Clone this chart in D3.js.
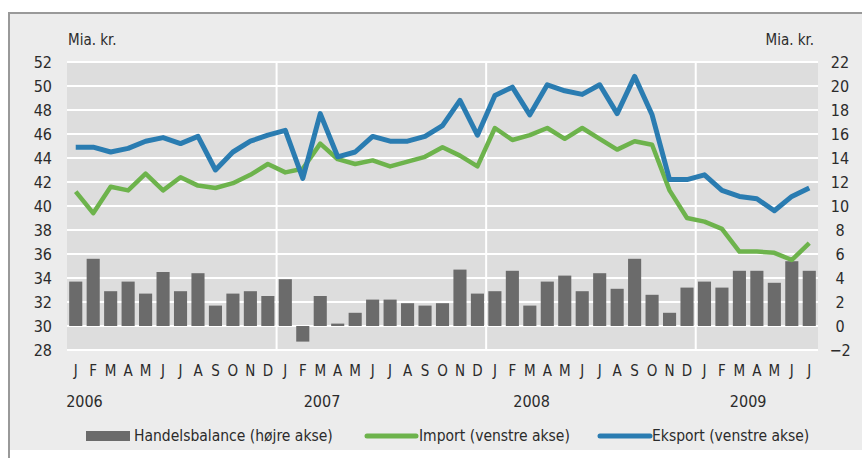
<!DOCTYPE html>
<html>
<head>
<meta charset="utf-8">
<script src="https://cdn.jsdelivr.net/npm/d3@7"></script>
<style>
  html, body { margin: 0; padding: 0; background: #fff; }
  svg { display: block; }
  text { font-family: 'Liberation Sans Narrow', 'DejaVu Sans Condensed', 'Roboto Condensed', sans-serif; fill: #2b2b2b; }
</style>
</head>
<body>
<svg id="chart" width="862" height="458"></svg>
<script>
const monthLetters = ['J', 'F', 'M', 'A', 'M', 'J', 'J', 'A', 'S', 'O', 'N', 'D']
const years = [2006, 2007, 2008, 2009]
const monthCounts = [12, 12, 12, 7]

// Mia. kr., venstre akse
const eksport = [
  44.9, 44.9, 44.5, 44.8, 45.4, 45.7, 45.2, 45.8, 43.0, 44.5, 45.4, 45.9,
  46.3, 42.3, 47.7, 44.1, 44.5, 45.8, 45.4, 45.4, 45.8, 46.7, 48.8, 45.9,
  49.2, 49.9, 47.6, 50.1, 49.6, 49.3, 50.1, 47.7, 50.8, 47.6, 42.2, 42.2,
  42.6, 41.3, 40.8, 40.6, 39.6, 40.8, 41.5,
]
const importVals = [
  41.2, 39.4, 41.6, 41.3, 42.7, 41.3, 42.4, 41.7, 41.5, 41.9, 42.6, 43.5,
  42.8, 43.1, 45.2, 43.9, 43.5, 43.8, 43.3, 43.7, 44.1, 44.9, 44.2, 43.3,
  46.5, 45.5, 45.9, 46.5, 45.6, 46.5, 45.6, 44.7, 45.4, 45.1, 41.3, 39.0,
  38.7, 38.1, 36.2, 36.2, 36.1, 35.5, 36.9,
]
// Mia. kr., højre akse
const handelsbalance = [
  3.7, 5.6, 2.9, 3.7, 2.7, 4.5, 2.9, 4.4, 1.7, 2.7, 2.9, 2.5,
  3.9, -1.3, 2.5, 0.2, 1.1, 2.2, 2.2, 1.9, 1.7, 1.9, 4.7, 2.7,
  2.9, 4.6, 1.7, 3.7, 4.2, 2.9, 4.4, 3.1, 5.6, 2.6, 1.1, 3.2,
  3.7, 3.2, 4.6, 4.6, 3.6, 5.4, 4.6,
]
const leftTicks = [28, 30, 32, 34, 36, 38, 40, 42, 44, 46, 48, 50, 52]
const rightTicks = [-2, 0, 2, 4, 6, 8, 10, 12, 14, 16, 18, 20, 22]
// where each year label sits, in months from the first month of that year
const yearLabelOffset = [1.0, 2.6, 2.6, 3.0]

const months = []
years.forEach((yr, yi) => {
  for (let m = 0; m < monthCounts[yi]; m++) {
    months.push({ key: `${yr}-${m}`, year: yr, m, letter: monthLetters[m] })
  }
})

const plot = { left: 67, right: 818, top: 62, bottom: 350 }
const colors = { bar: '#6b6b6b', imp: '#6db34c', eks: '#2a7cb1' }

const svg = d3.select('#chart')

// panel background and frame
svg.append('rect').attr('x', 9).attr('y', 13).attr('width', 853).attr('height', 437).attr('fill', '#ececec')
svg.append('line').attr('x1', 8).attr('x2', 862).attr('y1', 13).attr('y2', 13).attr('stroke', '#999').attr('stroke-width', 2)
svg.append('line').attr('x1', 9).attr('x2', 9).attr('y1', 12).attr('y2', 458).attr('stroke', '#999').attr('stroke-width', 2)

const x = d3.scaleBand().domain(months.map((d) => d.key)).range([plot.left, plot.right]).paddingInner(0.25).paddingOuter(0.125)
const yL = d3.scaleLinear().domain([28, 52]).range([plot.bottom, plot.top])
const yR = d3.scaleLinear().domain([-2, 22]).range([plot.bottom, plot.top])
const cx = (i) => x(months[i].key) + x.bandwidth() / 2
const step = x.step()

svg.append('rect')
  .attr('x', plot.left).attr('y', plot.top)
  .attr('width', plot.right - plot.left).attr('height', plot.bottom - plot.top)
  .attr('fill', '#dddddd')

// horizontal grid
svg.append('g').selectAll('line')
  .data(leftTicks)
  .join('line')
  .attr('x1', plot.left).attr('x2', plot.right)
  .attr('y1', (d) => yL(d)).attr('y2', (d) => yL(d))
  .attr('stroke', '#fff').attr('stroke-width', 2)

// year separators
const yearStarts = months.map((d, i) => i).filter((i) => i > 0 && months[i].m === 0)
svg.append('g').selectAll('line')
  .data(yearStarts)
  .join('line')
  .attr('x1', (i) => x(months[i].key) - step * x.paddingInner() / 2)
  .attr('x2', (i) => x(months[i].key) - step * x.paddingInner() / 2)
  .attr('y1', plot.top).attr('y2', plot.bottom)
  .attr('stroke', '#fff').attr('stroke-width', 2)

// bars (højre akse)
svg.append('g').selectAll('rect')
  .data(handelsbalance)
  .join('rect')
  .attr('x', (d, i) => x(months[i].key))
  .attr('width', x.bandwidth())
  .attr('y', (d) => yR(Math.max(0, d)))
  .attr('height', (d) => Math.abs(yR(d) - yR(0)))
  .attr('fill', colors.bar)

const line = d3.line().x((d, i) => cx(i)).y((d) => yL(d))

svg.append('path').datum(importVals)
  .attr('d', line).attr('fill', 'none')
  .attr('stroke', colors.imp).attr('stroke-width', 4.5).attr('stroke-linejoin', 'round')

svg.append('path').datum(eksport)
  .attr('d', line).attr('fill', 'none')
  .attr('stroke', colors.eks).attr('stroke-width', 5).attr('stroke-linejoin', 'round')

// axes
svg.append('g')
  .attr('transform', `translate(${plot.left - 3},0)`)
  .call(d3.axisLeft(yL).tickValues(leftTicks).tickSize(0).tickPadding(12))
const rightAxis = svg.append('g')
  .attr('transform', `translate(${plot.right},0)`)
  .call(d3.axisRight(yR).tickValues(rightTicks).tickSize(0).tickPadding(22))
rightAxis.selectAll('text').attr('text-anchor', 'middle')

const monthAxis = svg.append('g')
  .attr('transform', `translate(0,${plot.bottom})`)
  .call(d3.axisBottom(x).tickFormat((k, i) => months[i].letter).tickSize(0).tickPadding(15))

svg.selectAll('.domain').remove()
svg.selectAll('.tick text').style('font-size', '16px').attr('fill', '#2b2b2b')
monthAxis.selectAll('text').style('font-size', '15px').attr('fill', '#3a3a3a')

// year labels
svg.append('g').selectAll('text')
  .data(years)
  .join('text')
  .attr('x', (yr, yi) => {
    const first = months.findIndex((d) => d.year === yr)
    return x(months[first].key) - step * x.paddingInner() / 2 + yearLabelOffset[yi] * step
  })
  .attr('y', 407)
  .attr('text-anchor', 'middle')
  .style('font-size', '16px')
  .text((d) => d)

// unit labels
svg.append('text').attr('x', plot.left + 1).attr('y', 45).style('font-size', '15px').text('Mia. kr.')
svg.append('text').attr('x', plot.right - 4).attr('y', 45).attr('text-anchor', 'end').style('font-size', '15px').text('Mia. kr.')

// legend
const legend = svg.append('g').attr('transform', 'translate(0,436)')
legend.append('rect').attr('x', 86).attr('y', -5).attr('width', 44).attr('height', 10).attr('fill', colors.bar)
legend.append('text').attr('x', 134).attr('y', 5).style('font-size', '15.5px').text('Handelsbalance (højre akse)')
legend.append('line').attr('x1', 367).attr('x2', 416).attr('y1', 0).attr('y2', 0)
  .attr('stroke', colors.imp).attr('stroke-width', 5).attr('stroke-linecap', 'round')
legend.append('text').attr('x', 419).attr('y', 5).style('font-size', '15.5px').text('Import (venstre akse)')
legend.append('line').attr('x1', 600).attr('x2', 650).attr('y1', 0).attr('y2', 0)
  .attr('stroke', colors.eks).attr('stroke-width', 5).attr('stroke-linecap', 'round')
legend.append('text').attr('x', 652).attr('y', 5).style('font-size', '15.5px').text('Eksport (venstre akse)')
</script>
</body>
</html>
